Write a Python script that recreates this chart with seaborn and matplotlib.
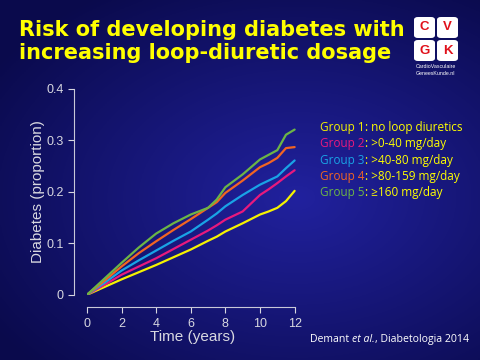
import numpy as np
import pandas as pd
import matplotlib
matplotlib.use("Agg")
import matplotlib.pyplot as plt
import seaborn as sns
from matplotlib.patches import FancyBboxPatch

# data
years = [0, 1, 2, 3, 4, 5, 6, 7, 7.5, 8, 9, 10, 10.5, 11, 11.5, 12]
group1 = [0, 0.015, 0.030, 0.044, 0.058, 0.073, 0.088, 0.105, 0.113, 0.123, 0.139, 0.156, 0.162, 0.169, 0.182, 0.202]
group2 = [0, 0.019, 0.039, 0.055, 0.071, 0.089, 0.107, 0.125, 0.135, 0.146, 0.162, 0.194, 0.205, 0.217, 0.230, 0.242]
group3 = [0, 0.023, 0.047, 0.067, 0.086, 0.105, 0.123, 0.146, 0.158, 0.172, 0.194, 0.214, 0.222, 0.230, 0.246, 0.261]
group4 = [0, 0.027, 0.055, 0.081, 0.104, 0.126, 0.147, 0.169, 0.180, 0.198, 0.222, 0.248, 0.256, 0.266, 0.285, 0.287]
group5 = [0, 0.031, 0.062, 0.092, 0.119, 0.139, 0.156, 0.169, 0.185, 0.209, 0.234, 0.263, 0.272, 0.281, 0.311, 0.321]

group_names = ["Group 1", "Group 2", "Group 3", "Group 4", "Group 5"]
group_desc = [": no loop diuretics", ": >0-40 mg/day", ": >40-80 mg/day",
              ": >80-159 mg/day", ": \u2265160 mg/day"]
colors = ["#f5f200", "#e8197d", "#19a3e6", "#f26522", "#6cb546"]

df = pd.concat([
    pd.DataFrame({"Time": years, "Diabetes": vals, "Group": name})
    for name, vals in zip(group_names, [group1, group2, group3, group4, group5])
])

sns.set_theme(style="ticks")
plt.rcParams["font.family"] = ["Liberation Sans", "DejaVu Sans"]

fig = plt.figure(figsize=(4.8, 3.6), dpi=100)

# background gradient
bg = fig.add_axes([0, 0, 1, 1])
yy, xx = np.mgrid[0:1:200j, 0:1:260j]
r = np.sqrt(((xx - 0.62) / 1.0) ** 2 + ((yy - 0.55) / 0.9) ** 2)
t = np.clip(r / 0.75, 0, 1)
c0 = np.array([0.13, 0.13, 0.62])
c1 = np.array([0.04, 0.04, 0.30])
img = c0[None, None, :] * (1 - t[..., None]) + c1[None, None, :] * t[..., None]
bg.imshow(img, aspect="auto", extent=[0, 1, 0, 1], origin="upper")
bg.axis("off")

ax = fig.add_axes([0.181, 0.181, 0.44, 0.572])
ax.set_facecolor("none")
sns.lineplot(data=df, x="Time", y="Diabetes", hue="Group", palette=colors,
             linewidth=1.6, legend=False, ax=ax)
ax.set_xlim(0, 12.2)
ax.set_ylim(0, 0.4)
ax.set_xticks([0, 2, 4, 6, 8, 10, 12])
ax.set_yticks([0, 0.1, 0.2, 0.3, 0.4])
ax.set_yticklabels(["0", "0.1", "0.2", "0.3", "0.4"])
sns.despine(ax=ax, offset=9, trim=True)
for s in ["left", "bottom"]:
    ax.spines[s].set_color("#c8c8d8")
    ax.spines[s].set_linewidth(0.8)
ax.tick_params(colors="#d8d8e0", labelsize=9, length=4, width=0.8)
ax.set_xlabel("Time (years)", color="#d8d8e0", fontsize=11, labelpad=0)
ax.set_ylabel("Diabetes (proportion)", color="#d8d8e0", fontsize=11, labelpad=1)

# title
fig.text(0.04, 0.945, "Risk of developing diabetes with\nincreasing loop-diuretic dosage",
         color="#ffff00", fontsize=15, fontweight="bold", family="DejaVu Sans",
         va="top", ha="left", linespacing=1.2)


def chain(x, y, parts, size):
    # draw text pieces one after another on one line
    for s, col, style in parts:
        tx = fig.text(x, y, s, color=col, fontsize=size, family="Open Sans",
                      style=style, va="center")
        fig.canvas.draw()
        x = tx.get_window_extent().x1 / fig.bbox.width


# coloured legend text
for i, (name, desc, col) in enumerate(zip(group_names, group_desc, colors)):
    chain(0.667, 0.645 - i * 0.045, [(name, col, "normal"), (desc, "#ffff00", "normal")], 8.5)

# citation
chain(0.646, 0.058, [("Demant ", "white", "normal"), ("et al.", "white", "italic"),
                     (", Diabetologia 2014", "white", "normal")], 7.6)

# logo
for (lx, ly, letter) in [(414, 17, "C"), (437, 17, "V"), (414, 40, "G"), (437, 40, "K")]:
    box = FancyBboxPatch((lx / 480, 1 - (ly + 21) / 360), 21 / 480, 21 / 360,
                         boxstyle="round,pad=0,rounding_size=0.008",
                         transform=fig.transFigure, facecolor="white", edgecolor="none")
    fig.patches.append(box)
    fig.text((lx + 10.5) / 480, 1 - (ly + 10.5) / 360, letter, color="#e0101a",
             fontsize=9.5, fontweight="bold", ha="center", va="center")
fig.text(436 / 480, 1 - 67 / 360, "CardioVasculaire", color="white", fontsize=3.8,
         ha="center", va="center")
fig.text(436 / 480, 1 - 73.5 / 360, "GeneesKunde.nl", color="white", fontsize=3.8,
         ha="center", va="center")

fig.savefig("out.png", dpi=100)
